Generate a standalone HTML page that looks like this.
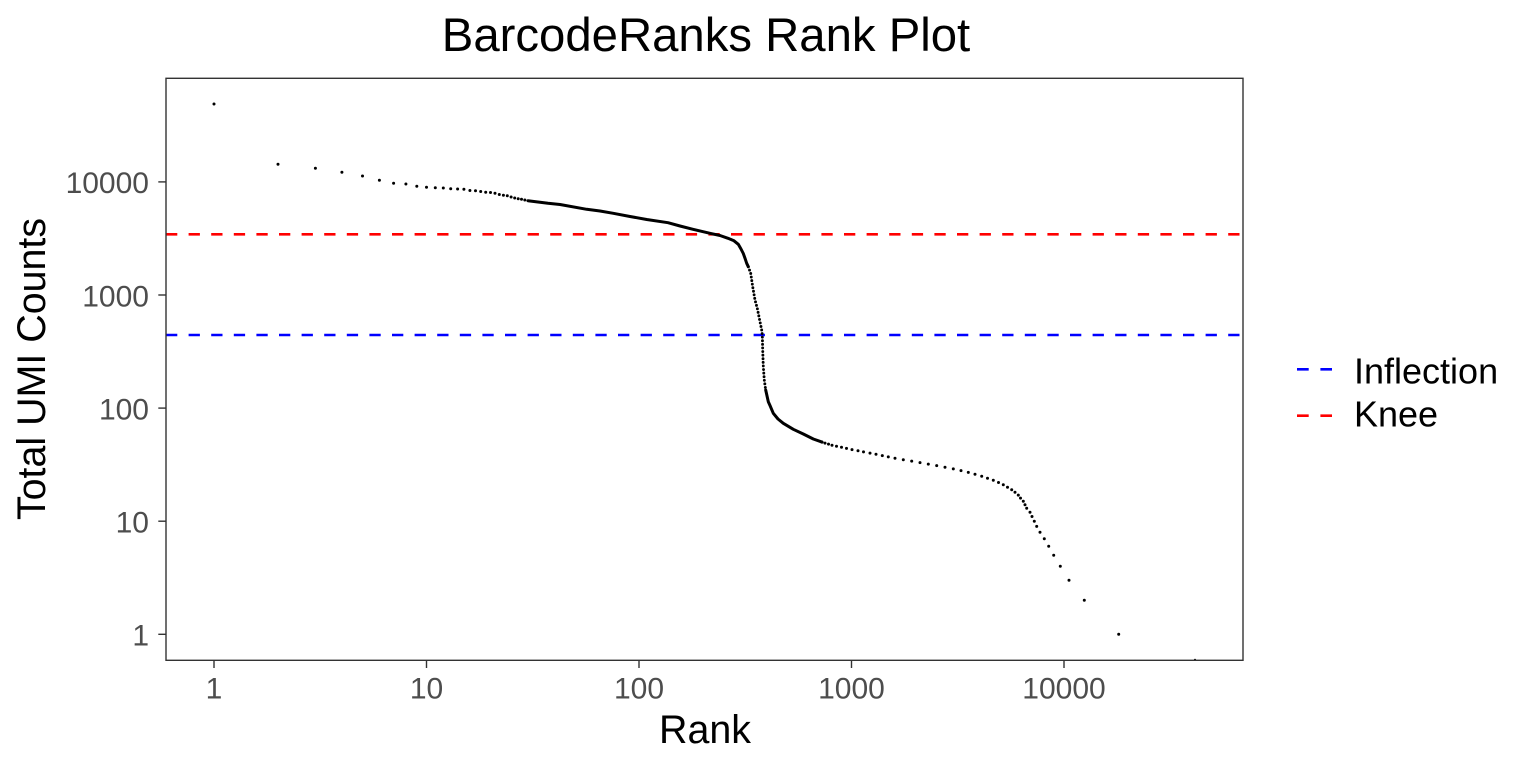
<!DOCTYPE html>
<html>
<head>
<meta charset="utf-8">
<style>
  html, body { margin: 0; padding: 0; background: #ffffff; }
  svg { display: block; }
  text { font-family: "Liberation Sans", Arial, Helvetica, sans-serif; }
</style>
</head>
<body>
<svg width="1536" height="768" viewBox="0 0 1536 768" xmlns="http://www.w3.org/2000/svg">
  <rect x="0" y="0" width="1536" height="768" fill="#ffffff"/>

  <text x="706" y="51" font-size="47.3" text-anchor="middle" fill="#000">BarcodeRanks Rank Plot</text>

  <line x1="166" y1="234.3" x2="1243" y2="234.3" stroke="#ff0000" stroke-width="2.6" stroke-dasharray="11.3 11.3"/>
  <line x1="166" y1="335" x2="1243" y2="335" stroke="#0000ff" stroke-width="2.6" stroke-dasharray="11.3 11.3"/>

  <polyline fill="none" stroke="#000" stroke-width="3" stroke-linejoin="round" stroke-linecap="round"
    points="527.9,200.7 548,203.3 560,204.5 586.7,209.3 600,211 613.3,213.3 630,216.5 646.7,219.5 668,222.7 680,226 693,229.3 710,233.3 720,235.5 728,238.3 734,240.8 738.3,244.3 741,249 743.3,253.5 745,258.3 746.7,263.3 748.3,266.7"/>
  <polyline fill="none" stroke="#000" stroke-width="2.9" stroke-linecap="round" stroke-dasharray="0 3.6"
    points="748.3,266.7 750.7,273.3 752.7,286.7 755,300 757.3,308.3 759.3,318.3 761.7,330 762.3,335 762.7,350 763.3,366.7 764.3,380 765.7,390"/>
  <polyline fill="none" stroke="#000" stroke-width="3" stroke-linejoin="round" stroke-linecap="round"
    points="765.7,390 768.3,401.7 770,405.5 773.3,413.3 778,419 783.3,423.3 793.3,429.3 803.3,434 813.3,439 822,442.1"/>

  <g fill="#000">
    <circle cx="214" cy="104" r="1.5"/>
    <circle cx="278" cy="164.3" r="1.5"/>
    <circle cx="315.4" cy="168.3" r="1.5"/>
    <circle cx="341.9" cy="172.3" r="1.5"/>
    <circle cx="362.5" cy="176" r="1.5"/>
    <circle cx="379.4" cy="180.3" r="1.5"/>
    <circle cx="393.6" cy="183.3" r="1.5"/>
    <circle cx="405.9" cy="184" r="1.5"/>
    <circle cx="416.8" cy="186.3" r="1.5"/>
    <circle cx="426.5" cy="187.3" r="1.5"/>
    <circle cx="435.3" cy="187.7" r="1.5"/>
    <circle cx="443.3" cy="188" r="1.5"/>
    <circle cx="450.7" cy="188.7" r="1.5"/>
    <circle cx="457.6" cy="189" r="1.5"/>
    <circle cx="463.9" cy="189.3" r="1.5"/>
    <circle cx="469.9" cy="190.5" r="1.5"/>
    <circle cx="475.5" cy="190.7" r="1.5"/>
    <circle cx="480.7" cy="191.5" r="1.5"/>
    <circle cx="485.7" cy="192.3" r="1.5"/>
    <circle cx="490.5" cy="192.5" r="1.5"/>
    <circle cx="495" cy="193.2" r="1.5"/>
    <circle cx="499.3" cy="194.5" r="1.5"/>
    <circle cx="503.4" cy="195.3" r="1.5"/>
    <circle cx="507.3" cy="195.8" r="1.5"/>
    <circle cx="511.1" cy="197" r="1.5"/>
    <circle cx="514.7" cy="198" r="1.5"/>
    <circle cx="518.2" cy="198.7" r="1.5"/>
    <circle cx="521.5" cy="199.2" r="1.5"/>
    <circle cx="524.8" cy="200" r="1.5"/>
    <circle cx="822" cy="442.1" r="1.5"/>
    <circle cx="825" cy="443.1" r="1.5"/>
    <circle cx="828.5" cy="444.1" r="1.5"/>
    <circle cx="832" cy="445.2" r="1.5"/>
    <circle cx="836.5" cy="446.2" r="1.5"/>
    <circle cx="841.5" cy="447.3" r="1.5"/>
    <circle cx="846.5" cy="448.4" r="1.5"/>
    <circle cx="852" cy="449.6" r="1.5"/>
    <circle cx="858" cy="450.7" r="1.5"/>
    <circle cx="863.5" cy="451.9" r="1.5"/>
    <circle cx="870" cy="453.1" r="1.5"/>
    <circle cx="876" cy="454.3" r="1.5"/>
    <circle cx="882.3" cy="455.6" r="1.5"/>
    <circle cx="888.3" cy="456.9" r="1.5"/>
    <circle cx="895" cy="458.3" r="1.5"/>
    <circle cx="903.3" cy="459.7" r="1.5"/>
    <circle cx="911.7" cy="461.1" r="1.5"/>
    <circle cx="920" cy="462.6" r="1.5"/>
    <circle cx="928.3" cy="464.1" r="1.5"/>
    <circle cx="936.7" cy="465.6" r="1.5"/>
    <circle cx="945" cy="467.2" r="1.5"/>
    <circle cx="953.3" cy="468.9" r="1.5"/>
    <circle cx="961" cy="470.6" r="1.5"/>
    <circle cx="968.3" cy="472.4" r="1.5"/>
    <circle cx="975" cy="474.3" r="1.5"/>
    <circle cx="981.7" cy="476.2" r="1.5"/>
    <circle cx="987.5" cy="478.2" r="1.5"/>
    <circle cx="993.3" cy="480.3" r="1.5"/>
    <circle cx="998.5" cy="482.5" r="1.5"/>
    <circle cx="1003.3" cy="484.8" r="1.5"/>
    <circle cx="1007.5" cy="487.2" r="1.5"/>
    <circle cx="1011.7" cy="489.7" r="1.5"/>
    <circle cx="1015" cy="492.3" r="1.5"/>
    <circle cx="1018.3" cy="495.1" r="1.5"/>
    <circle cx="1020.5" cy="498.1" r="1.5"/>
    <circle cx="1023.3" cy="501.3" r="1.5"/>
    <circle cx="1025" cy="504.7" r="1.5"/>
    <circle cx="1026.7" cy="508.3" r="1.5"/>
    <circle cx="1030" cy="512.2" r="1.5"/>
    <circle cx="1032" cy="516.5" r="1.5"/>
    <circle cx="1034.3" cy="521.2" r="1.5"/>
    <circle cx="1036.7" cy="526.4" r="1.5"/>
    <circle cx="1040" cy="532.2" r="1.5"/>
    <circle cx="1044.3" cy="538.7" r="1.5"/>
    <circle cx="1048.7" cy="546.3" r="1.5"/>
    <circle cx="1053.7" cy="555.2" r="1.5"/>
    <circle cx="1060.3" cy="566.2" r="1.5"/>
    <circle cx="1069" cy="580.3" r="1.5"/>
    <circle cx="1084.3" cy="600.3" r="1.5"/>
    <circle cx="1118.7" cy="634.3" r="1.5"/>
    <circle cx="1195" cy="659.8" r="1.1"/>
  </g>

  <rect x="166" y="78.3" width="1077" height="582" fill="none" stroke="#333333" stroke-width="1.4"/>

  <g stroke="#333333" stroke-width="1.4">
    <line x1="158.3" y1="181.9" x2="166" y2="181.9"/>
    <line x1="158.3" y1="295" x2="166" y2="295"/>
    <line x1="158.3" y1="408.1" x2="166" y2="408.1"/>
    <line x1="158.3" y1="521.2" x2="166" y2="521.2"/>
    <line x1="158.3" y1="634.3" x2="166" y2="634.3"/>
    <line x1="214" y1="660.3" x2="214" y2="668"/>
    <line x1="426.5" y1="660.3" x2="426.5" y2="668"/>
    <line x1="639" y1="660.3" x2="639" y2="668"/>
    <line x1="851.5" y1="660.3" x2="851.5" y2="668"/>
    <line x1="1064" y1="660.3" x2="1064" y2="668"/>
  </g>

  <g font-size="30" fill="#4d4d4d" text-anchor="end">
    <text x="149" y="193.2">10000</text>
    <text x="149" y="306.3">1000</text>
    <text x="149" y="419.4">100</text>
    <text x="149" y="532.5">10</text>
    <text x="149" y="645.6">1</text>
  </g>
  <g font-size="30" fill="#4d4d4d" text-anchor="middle">
    <text x="214" y="698.5">1</text>
    <text x="426.5" y="698.5">10</text>
    <text x="639" y="698.5">100</text>
    <text x="851.5" y="698.5">1000</text>
    <text x="1064" y="698.5">10000</text>
  </g>

  <text x="705" y="743" font-size="39.4" text-anchor="middle" fill="#000">Rank</text>
  <text transform="translate(45,369) rotate(-90)" font-size="39.4" text-anchor="middle" fill="#000">Total UMI Counts</text>

  <line x1="1297" y1="369.3" x2="1332" y2="369.3" stroke="#0000ff" stroke-width="2.6" stroke-dasharray="11.7 11.7"/>
  <line x1="1297" y1="415.7" x2="1332" y2="415.7" stroke="#ff0000" stroke-width="2.6" stroke-dasharray="11.7 11.7"/>
  <text x="1354" y="383.3" font-size="36" fill="#000">Inflection</text>
  <text x="1354" y="426.7" font-size="36" fill="#000">Knee</text>
</svg>
</body>
</html>
